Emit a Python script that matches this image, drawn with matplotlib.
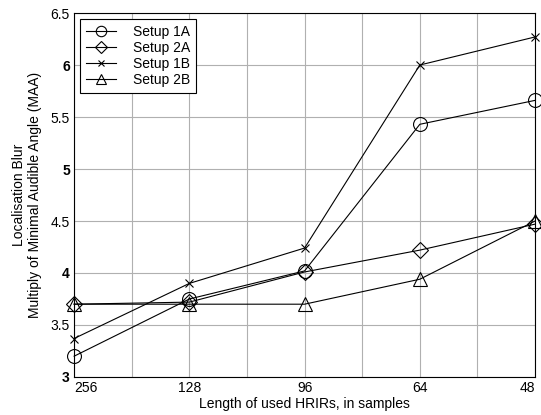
import matplotlib
matplotlib.use("Agg")
import matplotlib.pyplot as plt
from matplotlib.ticker import MultipleLocator

plt.rcParams['font.family'] = ['Liberation Sans', 'DejaVu Sans']

x_labels = ['256', '128', '96', '64', '48']
setup_1a = [3.20, 3.75, 4.02, 5.43, 5.66]
setup_2a = [3.70, 3.72, 4.01, 4.22, 4.47]
setup_1b = [3.37, 3.90, 4.24, 6.00, 6.27]
setup_2b = [3.70, 3.70, 3.70, 3.94, 4.50]

fig = plt.figure(figsize=(5.41, 4.15), dpi=100)
ax = fig.add_axes([0.137, 0.0916, 0.852, 0.877])
xs = list(range(len(x_labels)))

ax.plot(xs, setup_1a, color='black', lw=0.8, marker='o', ms=10, mfc='none', mew=0.8, label='Setup 1A', clip_on=False, zorder=3)
ax.plot(xs, setup_2a, color='black', lw=0.8, marker='D', ms=8, mfc='none', mew=0.8, label='Setup 2A', clip_on=False, zorder=3)
ax.plot(xs, setup_1b, color='black', lw=0.8, marker='x', ms=6, mfc='none', mew=0.8, label='Setup 1B', clip_on=False, zorder=3)
ax.plot(xs, setup_2b, color='black', lw=0.8, marker='^', ms=10, mfc='none', mew=0.8, label='Setup 2B', clip_on=False, zorder=3)

ax.set_xlim(0, 4)
ax.set_ylim(3, 6.5)
ax.set_xticks(xs)
ax.set_xticklabels(x_labels, fontsize=10)
xl = ax.get_xticklabels()
xl[0].set_horizontalalignment('left')
xl[-1].set_horizontalalignment('right')
ax.xaxis.set_minor_locator(MultipleLocator(0.5))
yt = [3, 3.5, 4, 4.5, 5, 5.5, 6, 6.5]
ax.set_yticks(yt)
ax.set_yticklabels(['3', '3.5', '4', '4.5', '5', '5.5', '6', '6.5'], fontsize=10)
for lab, v in zip(ax.get_yticklabels(), yt):
    if float(v).is_integer():
        lab.set_fontweight('bold')
ax.grid(True, which='both', color='#b0b0b0', lw=0.8)
ax.tick_params(which='both', direction='in', length=0, pad=3)
for s in ax.spines.values():
    s.set_color('black')
    s.set_linewidth(0.8)

ax.set_xlabel('Length of used HRIRs, in samples', fontsize=10, labelpad=1)
ax.set_ylabel('Localisation Blur\nMultiply of Minimal Audible Angle (MAA)', fontsize=10, labelpad=6)

leg = ax.legend(loc='upper left', bbox_to_anchor=(0.013, 0.983), fontsize=10, frameon=True, fancybox=False,
                edgecolor='black', handlelength=2.2, labelspacing=0.15, borderpad=0.4, handletextpad=1.2,
                borderaxespad=0, markerscale=0.75)
leg.get_frame().set_linewidth(0.8)
leg.get_frame().set_alpha(1)

fig.savefig('out.png', dpi=100)
